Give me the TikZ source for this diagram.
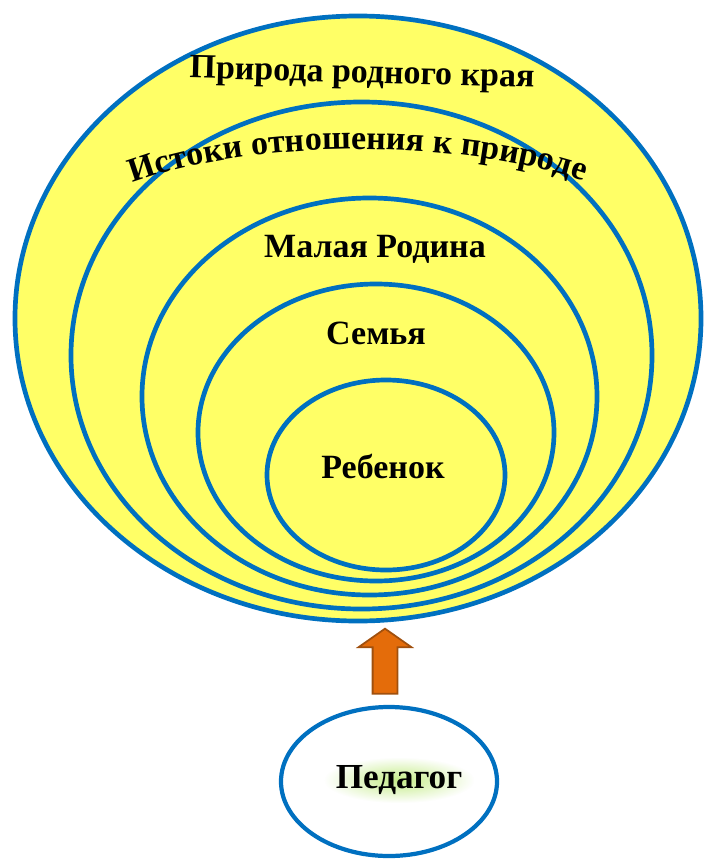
\documentclass[tikz,border=0pt]{standalone}
\usepackage{fontspec}
\setmainfont{Liberation Serif}
\usetikzlibrary{shapes.geometric,shapes.arrows,decorations.text,fadings}
\definecolor{ringblue}{HTML}{0070C0}
\definecolor{ringfill}{HTML}{FFFF66}
\definecolor{arrowfill}{HTML}{E46C0A}
\definecolor{arrowline}{HTML}{A0500E}
\definecolor{glowgreen}{HTML}{B6E86A}
\tikzfading[name=glowfade, inner color=transparent!20, outer color=transparent!100]
\newcommand{\ringfont}[1]{\bfseries\fontsize{#1}{#1}\selectfont}
\begin{document}
\begin{tikzpicture}[x=0.03cm,y=-0.03cm,
  ring/.style={draw=ringblue, fill=ringfill, ellipse, line width=4pt, inner sep=0pt},
  ringtext/.style={inner sep=0pt, font=\ringfont{#1}}]
\useasboundingbox (0,0) rectangle (706,861);
\node[ring, minimum width=20.58cm, minimum height=18.15cm] (priroda) at (358,318.5) {};
\node[ring, minimum width=17.43cm, minimum height=15.21cm] (istoki) at (361.5,355.5) {};
\node[ring, minimum width=13.65cm, minimum height=11.91cm] (rodina) at (369.5,396.5) {};
\node[ring, minimum width=10.68cm, minimum height=8.91cm] (semya) at (376,432.5) {};
\node[ring, minimum width=7.14cm, minimum height=5.7cm] (rebenok) at (386,475) {};
\node[ring, fill=white, line width=3.6pt, minimum width=6.48cm, minimum height=4.47cm] (pedagog) at (389,781.5) {};
\node[ringtext=29, rotate=-1.5] (t-priroda) at (362,75) {Природа родного края};
\path[decorate, decoration={text along path, text align=center,
  text={|\ringfont{29}|Истоки отношения к природе}}]
  (130,184) .. controls (250,138) and (460,138) .. (586,182);
\node[ringtext=29] (t-rodina) at (375,249) {Малая Родина};
\node[ringtext=29] (t-semya) at (376,333) {Семья};
\node[ringtext=29] (t-rebenok) at (383,466) {Ребенок};
\node[ringtext=30, inner xsep=10pt, inner ysep=7pt, fill=glowgreen,
  path fading=glowfade, fit fading=true] (t-pedagog) at (399,780) {Педагог};
\node[single arrow, rotate=90, draw=arrowline, fill=arrowfill, line width=1.5pt,
  inner xsep=0pt, inner ysep=0.345cm, minimum height=1.95cm,
  single arrow head extend=0.42cm, single arrow tip angle=110] (arrow) at (385,665.5) {};
\end{tikzpicture}
\end{document}
